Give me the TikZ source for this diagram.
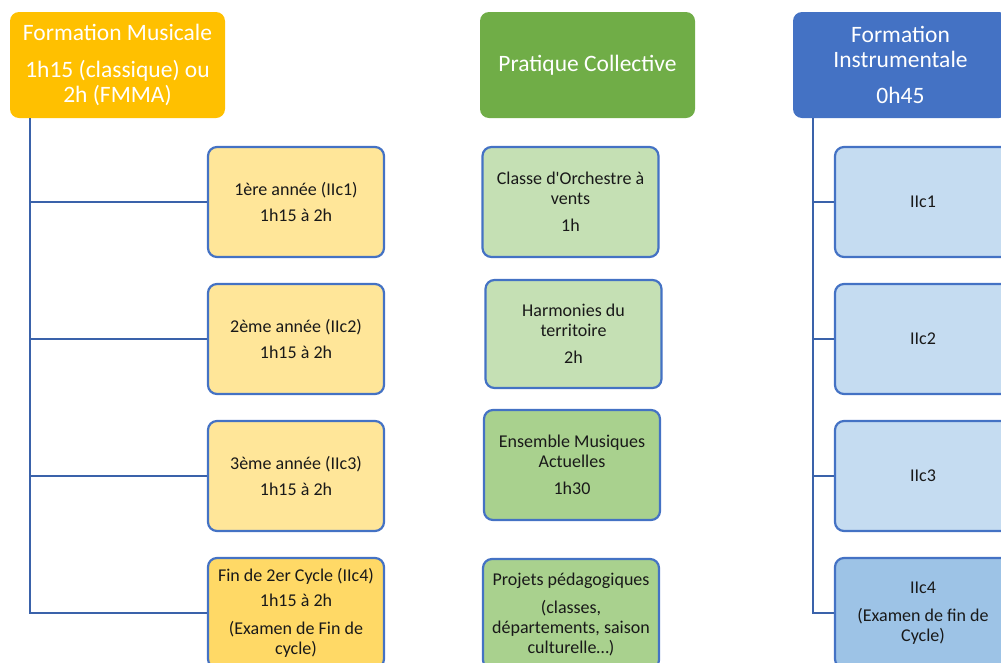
\documentclass[tikz,border=0pt]{standalone}
\usepackage{fontspec}
\setmainfont{Carlito}
\usetikzlibrary{positioning}

\definecolor{fmgold}{HTML}{FFC000}
\definecolor{fmlight}{HTML}{FFE699}
\definecolor{fmmid}{HTML}{FFD966}
\definecolor{pcgreen}{HTML}{70AD47}
\definecolor{pclight}{HTML}{C5E0B4}
\definecolor{pcmid}{HTML}{A9D18E}
\definecolor{fiblue}{HTML}{4472C4}
\definecolor{filight}{HTML}{C5DCF1}
\definecolor{fimid}{HTML}{9DC3E6}
\definecolor{lineblue}{HTML}{3A62AA}

\begin{document}
\begin{tikzpicture}[x=1pt, y=-1pt, node distance=137pt, on grid,
    head/.style={rounded corners=9pt, minimum width=215pt, minimum height=106pt,
      inner sep=3pt, text=white, align=center, font=\fontsize{23.5}{25}\selectfont},
    item/.style={draw=fiblue, line width=2.2pt, rounded corners=9pt,
      minimum width=176pt, minimum height=110pt, inner sep=3pt, align=center,
      text=black!90, font=\fontsize{18}{20}\selectfont},
    link/.style={draw=lineblue, line width=2pt}]
    \useasboundingbox (0,0) rectangle (1001,662);
    \clip (0,0) rectangle (1001,662);

    % headers
    \node[head, fill=fmgold] (FM) at (117.5,65) {Formation Musicale\\[12pt]1h15 (classique) ou\\2h (FMMA)};
    \node[head, fill=pcgreen] (PC) at (587.5,65) {Pratique Collective};
    \node[head, fill=fiblue] (FI) at (900.5,65) {Formation\\Instrumentale\\[11pt]0h45};

    % formation musicale
    \node[item, fill=fmlight] (FM1) at (296,202) {1ère année (IIc1)\\[6pt]1h15 à 2h};
    \node[item, fill=fmlight] (FM2) [below=of FM1] {2ème année (IIc2)\\[6pt]1h15 à 2h};
    \node[item, fill=fmlight] (FM3) [below=of FM2] {3ème année (IIc3)\\[6pt]1h15 à 2h};
    \node[item, fill=fmmid] (FM4) [below=of FM3] {Fin de 2er Cycle (IIc4)\\[5pt]1h15 à 2h\\[8pt](Examen de Fin de\\cycle)};

    % pratique collective
    \node[item, fill=pclight] (PC1) at (570.5,202) {Classe d\textquotesingle Orchestre à\\vents\\[7pt]1h};
    \node[item, fill=pclight, minimum height=108pt] (PC2) at (573.5,334) {Harmonies du\\territoire\\[7pt]2h};
    \node[item, fill=pcmid] (PC3) at (572,465) {Ensemble Musiques\\Actuelles\\[7pt]1h30};
    \node[item, fill=pcmid] (PC4) at (571,614) {Projets pédagogiques\\[8pt](classes,\\départements, saison\\culturelle…)};

    % formation instrumentale
    \node[item, fill=filight] (FI1) at (923,202) {IIc1};
    \node[item, fill=filight] (FI2) [below=of FI1] {IIc2};
    \node[item, fill=filight] (FI3) [below=of FI2] {IIc3};
    \node[item, fill=fimid] (FI4) [below=of FI3] {IIc4\\[8pt](Examen de fin de\\Cycle)};

    \foreach \n in {1,2,3,4} {
      \draw[link] ([xshift=20pt]FM.south west) |- (FM\n.west);
      \draw[link] ([xshift=20pt]FI.south west) |- (FI\n.west);
    }
\end{tikzpicture}
\end{document}
